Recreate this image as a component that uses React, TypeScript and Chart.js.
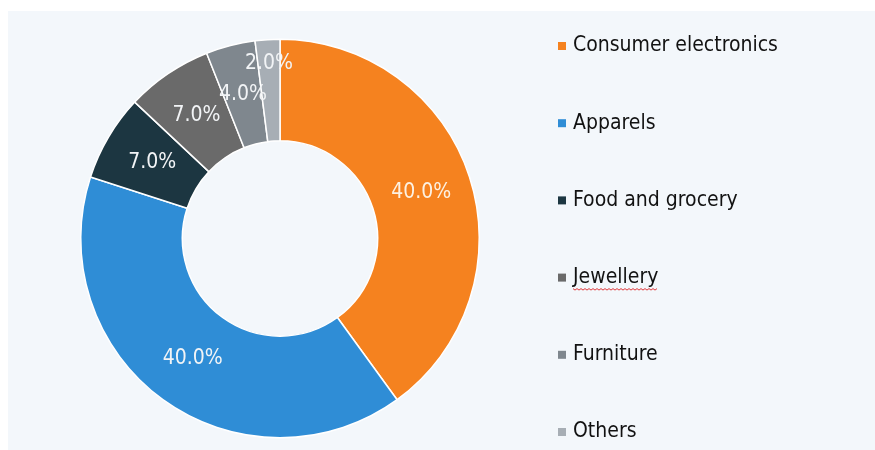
import React, { useEffect, useRef } from 'react';
import { Chart, registerables } from 'chart.js';

Chart.register(...registerables);

const categories = ['Consumer electronics', 'Apparels', 'Food and grocery', 'Jewellery', 'Furniture', 'Others'];
const shares = [40, 40, 7, 7, 4, 2];
const sliceColors = ['#f5821f', '#2f8dd6', '#1c3641', '#6a6a6a', '#7f878e', '#a7aeb5'];
const labelRadiusFrac = [0.5, 0.5, 0.5, 0.5, 0.5, 0.76];

const FONT = "'DejaVu Sans Condensed', 'Liberation Sans Narrow', 'DejaVu Sans', sans-serif";

const backgroundPlugin = {
  id: 'panelBackground',
  beforeDraw(chart: any) {
    const { ctx, width, height } = chart;
    ctx.save();
    ctx.fillStyle = '#ffffff';
    ctx.fillRect(0, 0, width, height);
    ctx.fillStyle = '#f3f7fb';
    ctx.fillRect(8, 11, width - 8, height - 11);
    ctx.restore();
  },
};

const sliceLabelPlugin = {
  id: 'sliceLabels',
  afterDatasetsDraw(chart: any) {
    const { ctx } = chart;
    const meta = chart.getDatasetMeta(0);
    ctx.save();
    ctx.font = `21px ${FONT}`;
    ctx.textAlign = 'center';
    ctx.textBaseline = 'middle';
    meta.data.forEach((arc: any, i: number) => {
      const p = arc.getProps(['x', 'y', 'startAngle', 'endAngle', 'innerRadius', 'outerRadius'], true);
      const mid = (p.startAngle + p.endAngle) / 2;
      const r = p.innerRadius + (p.outerRadius - p.innerRadius) * labelRadiusFrac[i];
      ctx.fillStyle = i === 0 ? '#fdf1e2' : '#f2f4f6';
      ctx.fillText(shares[i].toFixed(1) + '%', p.x + Math.cos(mid) * r, p.y + Math.sin(mid) * r);
    });
    ctx.restore();
  },
};

const legendPlugin = {
  id: 'sideLegend',
  afterDraw(chart: any) {
    const { ctx } = chart;
    const x0 = 558;
    const y0 = 46;
    const step = 77.2;
    ctx.save();
    ctx.font = `21px ${FONT}`;
    ctx.textBaseline = 'middle';
    ctx.textAlign = 'left';
    categories.forEach((label, i) => {
      const y = y0 + i * step;
      ctx.fillStyle = sliceColors[i];
      ctx.fillRect(x0, y - 4, 8, 8);
      ctx.fillStyle = '#121212';
      ctx.fillText(label, x0 + 15, y);
      if (label === 'Jewellery') {
        const w = ctx.measureText(label).width;
        ctx.strokeStyle = '#e0383a';
        ctx.lineWidth = 1;
        ctx.beginPath();
        const yy = y + 11;
        for (let k = 0; k <= w; k += 2) {
          const yk = yy + (Math.floor(k / 2) % 2 === 0 ? 0 : 1.5);
          if (k === 0) ctx.moveTo(x0 + 15 + k, yk);
          else ctx.lineTo(x0 + 15 + k, yk);
        }
        ctx.stroke();
      }
    });
    ctx.restore();
  },
};

export default function App() {
  const canvasRef = useRef<HTMLCanvasElement | null>(null);

  useEffect(() => {
    if (!canvasRef.current) return;
    const chart = new Chart(canvasRef.current, {
      type: 'doughnut',
      data: {
        labels: categories,
        datasets: [
          {
            data: shares,
            backgroundColor: sliceColors,
            borderColor: '#ffffff',
            borderWidth: 1.5,
          },
        ],
      },
      options: {
        animation: false,
        responsive: true,
        maintainAspectRatio: false,
        cutout: '49%',
        layout: { padding: { left: 80, right: 395, top: 37, bottom: 10 } },
        plugins: {
          legend: { display: false },
          tooltip: { enabled: false },
        },
      },
      plugins: [backgroundPlugin, sliceLabelPlugin, legendPlugin],
    });
    return () => chart.destroy();
  }, []);

  return (
    <div style={{ position: 'absolute', left: 0, top: 0, width: 875, height: 450 }}>
      <canvas ref={canvasRef} />
    </div>
  );
}
